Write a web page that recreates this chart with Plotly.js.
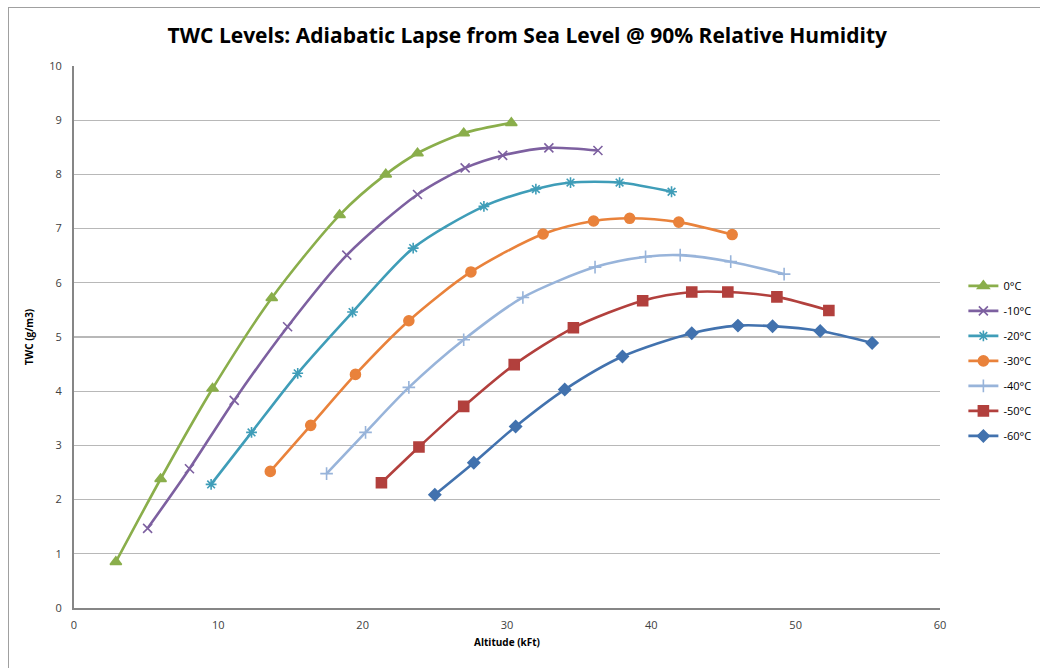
<!DOCTYPE html>
<html>
<head>
<meta charset="utf-8">
<script src="https://cdn.plot.ly/plotly-3.0.1.min.js"></script>
<style>
  html, body { margin: 0; padding: 0; background: #fff; }
  #wrap { position: relative; width: 1040px; height: 668px; overflow: hidden; }
  #frame { position: absolute; left: 8px; top: 7px; width: 1100px; height: 700px; border-left: 1px solid #a0a0a0; border-top: 1px solid #a0a0a0; pointer-events: none; }
  #chart { position: absolute; left: 0; top: 0; width: 1040px; height: 668px; }
</style>
</head>
<body>
<div id="wrap">
  <div id="chart"></div>
  <div id="frame"></div>
</div>
<script>
// Series names
const seriesNames = ["0°C", "-10°C", "-20°C", "-30°C", "-40°C", "-50°C", "-60°C"];

// Altitude (kFt) and TWC (g/m3) per series
const alt0 = [2.9, 6.0, 9.6, 13.7, 18.4, 21.6, 23.8, 27.0, 30.3];
const twc0 = [0.85, 2.38, 4.05, 5.72, 7.25, 8.0, 8.39, 8.76, 8.95];

const alt10 = [5.1, 8.0, 11.1, 14.8, 18.9, 23.8, 27.1, 29.7, 32.9, 36.3];
const twc10 = [1.47, 2.57, 3.83, 5.19, 6.51, 7.63, 8.12, 8.35, 8.49, 8.44];

const alt20 = [9.5, 12.3, 15.5, 19.3, 23.5, 28.4, 32.0, 34.4, 37.8, 41.4];
const twc20 = [2.28, 3.24, 4.33, 5.46, 6.64, 7.41, 7.73, 7.85, 7.85, 7.68];

const alt30 = [13.6, 16.4, 19.5, 23.2, 27.5, 32.5, 36.0, 38.5, 41.9, 45.6];
const twc30 = [2.52, 3.37, 4.31, 5.30, 6.20, 6.90, 7.14, 7.19, 7.12, 6.89];

const alt40 = [17.5, 20.2, 23.2, 27.0, 31.1, 36.1, 39.6, 42.0, 45.5, 49.2];
const twc40 = [2.48, 3.24, 4.07, 4.95, 5.73, 6.29, 6.48, 6.51, 6.39, 6.16];

const alt50 = [21.3, 23.9, 27.0, 30.5, 34.6, 39.4, 42.8, 45.3, 48.7, 52.3];
const twc50 = [2.31, 2.97, 3.72, 4.49, 5.17, 5.67, 5.83, 5.83, 5.74, 5.49];

const alt60 = [25.0, 27.7, 30.6, 34.0, 38.0, 42.8, 46.0, 48.4, 51.7, 55.3];
const twc60 = [2.09, 2.68, 3.35, 4.03, 4.64, 5.07, 5.21, 5.20, 5.11, 4.89];

const xTicks = [0, 10, 20, 30, 40, 50, 60];
const yTicks = [0, 1, 2, 3, 4, 5, 6, 7, 8, 9, 10];

const colors = ["#8AAE4B", "#7D60A0", "#3F9DB8", "#E9823B", "#98B4DA", "#B2403D", "#4272AE"];
const symbols = ["triangle-up", "x-thin-open", "asterisk-open", "circle", "cross-thin-open", "square", "diamond"];
const sizes = [10, 9, 9, 10, 9, 10, 9];

const xs = [alt0, alt10, alt20, alt30, alt40, alt50, alt60];
const ys = [twc0, twc10, twc20, twc30, twc40, twc50, twc60];

const traces = seriesNames.map((name, i) => ({
  type: "scatter",
  mode: "lines+markers",
  name: name,
  legendgroup: "g" + i,
  x: xs[i],
  y: ys[i],
  line: { color: colors[i], width: 2.6, shape: "spline", smoothing: 0.8 },
  marker: { color: colors[i], symbol: symbols[i], size: sizes[i], line: { color: colors[i], width: 1.6 } }
}));

const layout = {
  width: 1040,
  height: 668,
  margin: { l: 74, r: 100, t: 66, b: 60, autoexpand: false },
  paper_bgcolor: "#ffffff",
  plot_bgcolor: "#ffffff",
  title: {
    text: "<b>TWC Levels: Adiabatic Lapse from Sea Level @ 90% Relative Humidity</b>",
    font: { family: "Open Sans, sans-serif", size: 21, color: "#000000" },
    x: 0.507, xanchor: "center", y: 0.947, yanchor: "middle"
  },
  xaxis: {
    range: [0, 60],
    tickvals: xTicks,
    ticktext: xTicks.map(String),
    showgrid: false,
    zeroline: false,
    showline: true,
    linecolor: "#868686",
    linewidth: 2,
    ticks: "",
    tickfont: { family: "Open Sans, sans-serif", size: 11, color: "#404040" },
    ticklabelstandoff: 6,
    title: { text: "<b>Altitude (kFt)</b>", font: { family: "Open Sans, sans-serif", size: 10, color: "#000" }, standoff: 8 }
  },
  yaxis: {
    range: [0, 10],
    tickvals: yTicks,
    ticktext: yTicks.map(String),
    showgrid: true,
    gridcolor: "#b8b8b8",
    gridwidth: 1.3,
    zeroline: false,
    showline: true,
    linecolor: "#868686",
    linewidth: 2,
    ticks: "",
    tickfont: { family: "Open Sans, sans-serif", size: 11, color: "#404040" },
    ticklabelstandoff: 8,
    title: { text: "<b>TWC (g/m3)</b>", font: { family: "Open Sans, sans-serif", size: 10, color: "#000" }, standoff: 14 }
  },
  legend: {
    x: 1.027, xanchor: "left",
    y: 0.621, yanchor: "top",
    font: { family: "Open Sans, sans-serif", size: 11, color: "#000" },
    tracegroupgap: 6,
    itemwidth: 30,
    bgcolor: "rgba(0,0,0,0)"
  },
  showlegend: true
};

Plotly.newPlot("chart", traces, layout, { displayModeBar: false, staticPlot: true });
</script>
</body>
</html>
